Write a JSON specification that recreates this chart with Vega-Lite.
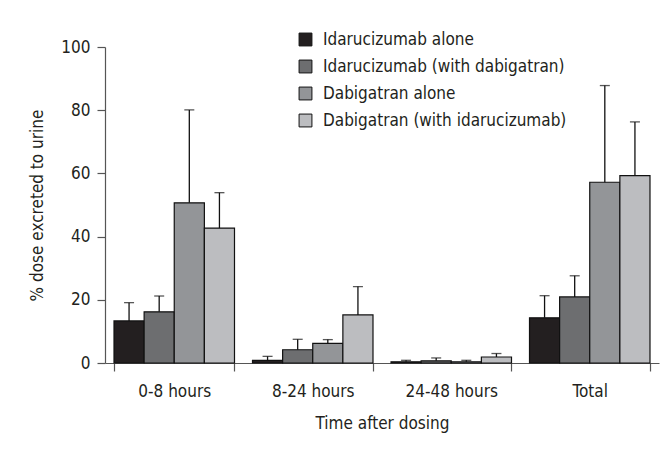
{
  "$schema": "https://vega.github.io/schema/vega-lite/v6.json",
  "width": 554,
  "height": 316,
  "autosize": {"type": "none"},
  "padding": {"left": 105, "top": 47, "right": 12, "bottom": 88},
  "background": "white",
  "config": {
    "font": "DejaVu Sans Condensed, Liberation Sans, sans-serif",
    "view": {"stroke": null},
    "axis": {"labelFont": "DejaVu Sans Condensed, Liberation Sans, sans-serif", "titleFont": "DejaVu Sans Condensed, Liberation Sans, sans-serif", "labelColor": "#231f20", "titleColor": "#231f20", "domainColor": "#555555", "tickColor": "#555555", "domainWidth": 1.2, "tickWidth": 1.2, "grid": false},
    "legend": {"labelFont": "DejaVu Sans Condensed, Liberation Sans, sans-serif", "labelColor": "#231f20"}
  },
  "data": {
    "values": [
      {"time": "0-8 hours", "series": "Idarucizumab alone", "value": 13.3, "upper": 19.1},
      {"time": "0-8 hours", "series": "Idarucizumab (with dabigatran)", "value": 16.2, "upper": 21.2},
      {"time": "0-8 hours", "series": "Dabigatran alone", "value": 50.7, "upper": 80.1},
      {"time": "0-8 hours", "series": "Dabigatran (with idarucizumab)", "value": 42.7, "upper": 53.9},
      {"time": "8-24 hours", "series": "Idarucizumab alone", "value": 0.85, "upper": 2.1},
      {"time": "8-24 hours", "series": "Idarucizumab (with dabigatran)", "value": 4.2, "upper": 7.5},
      {"time": "8-24 hours", "series": "Dabigatran alone", "value": 6.2, "upper": 7.4},
      {"time": "8-24 hours", "series": "Dabigatran (with idarucizumab)", "value": 15.2, "upper": 24.2},
      {"time": "24-48 hours", "series": "Idarucizumab alone", "value": 0.4, "upper": 0.85},
      {"time": "24-48 hours", "series": "Idarucizumab (with dabigatran)", "value": 0.7, "upper": 1.6},
      {"time": "24-48 hours", "series": "Dabigatran alone", "value": 0.4, "upper": 0.85},
      {"time": "24-48 hours", "series": "Dabigatran (with idarucizumab)", "value": 1.9, "upper": 3.0},
      {"time": "Total", "series": "Idarucizumab alone", "value": 14.3, "upper": 21.3},
      {"time": "Total", "series": "Idarucizumab (with dabigatran)", "value": 20.9, "upper": 27.6},
      {"time": "Total", "series": "Dabigatran alone", "value": 57.2, "upper": 87.8},
      {"time": "Total", "series": "Dabigatran (with idarucizumab)", "value": 59.3, "upper": 76.3}
    ]
  },
  "encoding": {
    "x": {
      "field": "time", "type": "nominal",
      "sort": ["0-8 hours", "8-24 hours", "24-48 hours", "Total"],
      "scale": {"paddingInner": 0.13, "paddingOuter": 0.065},
      "axis": {"title": "Time after dosing", "labelAngle": 0, "labelFontSize": 17, "titleFontSize": 17, "titleFontWeight": "normal", "tickBand": "extent", "tickSize": 8, "labelPadding": 12, "titlePadding": 16}
    },
    "xOffset": {
      "field": "series", "type": "nominal",
      "sort": ["Idarucizumab alone", "Idarucizumab (with dabigatran)", "Dabigatran alone", "Dabigatran (with idarucizumab)"],
      "scale": {"paddingInner": 0, "paddingOuter": 0}
    }
  },
  "layer": [
    {
      "mark": {"type": "bar", "stroke": "#111111", "strokeWidth": 1.2},
      "encoding": {
        "y": {
          "field": "value", "type": "quantitative",
          "scale": {"domain": [0, 100]},
          "axis": {"title": "% dose excreted to urine", "values": [0, 20, 40, 60, 80, 100], "labelFontSize": 17, "titleFontSize": 17, "titleFontWeight": "normal", "tickSize": 8, "labelPadding": 7, "titlePadding": 14}
        },
        "color": {
          "field": "series", "type": "nominal",
          "scale": {
            "domain": ["Idarucizumab alone", "Idarucizumab (with dabigatran)", "Dabigatran alone", "Dabigatran (with idarucizumab)"],
            "range": ["#231f20", "#6d6e70", "#939598", "#bcbdc0"]
          },
          "legend": {
            "title": null, "orient": "none", "legendX": 192, "legendY": -16,
            "padding": 0, "symbolType": "square", "symbolSize": 165,
            "symbolStrokeColor": "#111111", "symbolStrokeWidth": 1,
            "labelFontSize": 17, "labelOffset": 9, "rowPadding": 9,
            "labelLimit": 400
          }
        }
      }
    },
    {
      "mark": {"type": "rule", "color": "#111111", "strokeWidth": 1.3},
      "encoding": {
        "y": {"field": "value", "type": "quantitative"},
        "y2": {"field": "upper"}
      }
    },
    {
      "mark": {"type": "tick", "color": "#111111", "thickness": 1.3, "size": 10},
      "encoding": {
        "y": {"field": "upper", "type": "quantitative"}
      }
    }
  ]
}
